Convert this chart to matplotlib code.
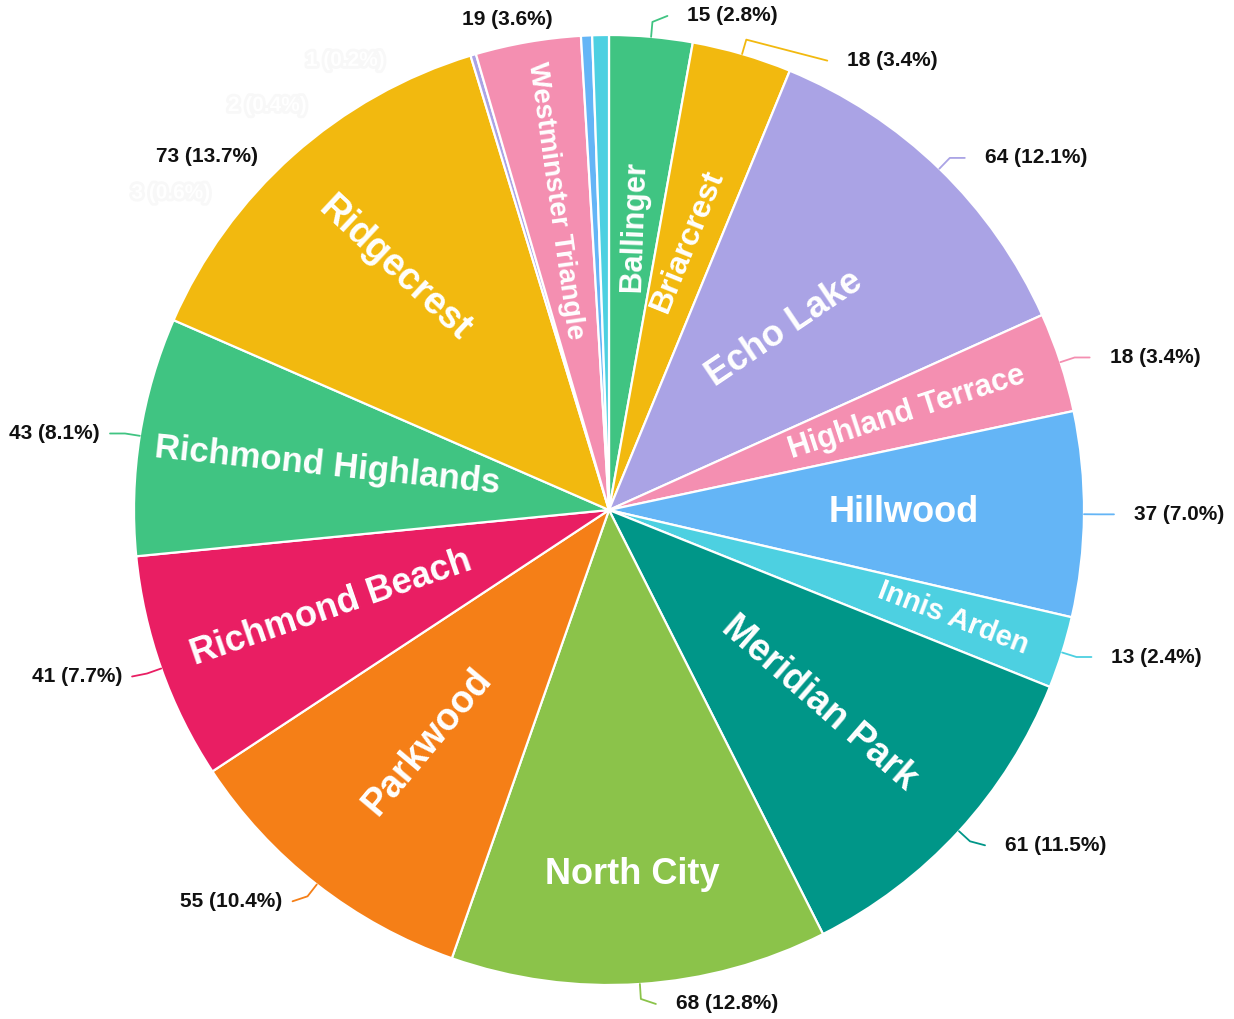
import numpy as np
import matplotlib
matplotlib.use("Agg")
import matplotlib.pyplot as plt
import matplotlib.patheffects as pe

plt.rcParams["font.family"] = ["Liberation Sans", "DejaVu Sans"]

# neighbourhood counts, alphabetical, drawn clockwise from 12 o'clock
names = ["Ballinger", "Briarcrest", "Echo Lake", "Highland Terrace", "Hillwood",
         "Innis Arden", "Meridian Park", "North City", "Parkwood", "Richmond Beach",
         "Richmond Highlands", "Ridgecrest", "The Highlands", "Westminster Triangle",
         "Unassigned", "Unknown"]
counts = [15, 18, 64, 18, 37, 13, 61, 68, 55, 41, 43, 73, 1, 19, 2, 3]

palette = ["#40C482", "#F2B90F", "#AAA3E5", "#F48FB1", "#64B5F6",
           "#4DD0E1", "#009688", "#8BC34A", "#F57F17", "#E91E63"]
colors = [palette[i % len(palette)] for i in range(len(counts))]

# slice-name styling: radius fraction, rotation, size (0 = no name drawn)
name_r = [0.60, 0.59, 0.53, 0.66, 0.62, 0.76, 0.60, 0.77, 0.62, 0.62, 0.60, 0.68, 0, 0.66, 0, 0]
name_rot = [88, 68, 34, 18, 0, -21, -41, 0, 50, 19, -6, -43, 0, -82, 0, 0]
name_size = [22, 23, 26, 22, 26, 21, 27, 26, 27, 26, 25, 27, 0, 20, 0, 0]

# value-label nudges (px) and which labels keep a leader line
nudge = [(0, 6), (66, -21), (0, 0), (0, 0), (0, 0), (0, 0), (0, -4), (0, -5),
         (0, -5), (0, -3), (0, 0), (0, -12), (-59, -20), (52, 8), (-254, -85), (-365, -173)]
leader = [True] * 11 + [False, False, False, False, False]
faint = [False] * 12 + [True, False, True, True]

fig = plt.figure(figsize=(12.34, 10.19), dpi=100)
ax = fig.add_axes([0, 0, 1, 1])
cx, cy, R = 609, 509, 475

wedges, _ = ax.pie(counts, colors=colors, startangle=90, counterclock=False,
                   radius=R, center=(cx, cy),
                   wedgeprops=dict(edgecolor="white", linewidth=1.6))
ax.set_xlim(0, 1234)
ax.set_ylim(0, 1019)
ax.set_aspect("equal")
ax.axis("off")

total = sum(counts)
for i, w in enumerate(wedges):
    mid = np.deg2rad((w.theta1 + w.theta2) / 2)
    ux, uy = np.cos(mid), np.sin(mid)

    # name inside the slice
    if name_size[i]:
        ax.text(cx + name_r[i] * R * ux, cy + name_r[i] * R * uy, names[i],
                rotation=name_rot[i], rotation_mode="anchor",
                ha="center", va="center", color="white",
                fontsize=name_size[i], fontweight="bold")

    # value label outside with leader
    side = 1 if ux >= 0 else -1
    p0 = (cx + R * ux, cy + R * uy)
    p1 = (cx + (R + 15) * ux, cy + (R + 15) * uy)
    p2 = (p1[0] + 15 * side + nudge[i][0], p1[1] + nudge[i][1])
    if leader[i]:
        ax.plot([p0[0], p1[0], p2[0]], [p0[1], p1[1], p2[1]],
                color=colors[i], lw=1.3, solid_capstyle="round")
    gap = 20 if side > 0 else 10
    label = f"{counts[i]} ({counts[i] / total * 100:.1f}%)"
    if faint[i]:
        ax.text(p2[0] + gap * side, p2[1], label, ha="left" if side > 0 else "right",
                va="center", fontsize=15, fontweight="bold", color="white",
                path_effects=[pe.withStroke(linewidth=4, foreground="#f8f8f8")])
    else:
        ax.text(p2[0] + gap * side, p2[1], label, ha="left" if side > 0 else "right",
                va="center", fontsize=15, fontweight="bold", color="#111111")

fig.savefig("out.png", dpi=100)
